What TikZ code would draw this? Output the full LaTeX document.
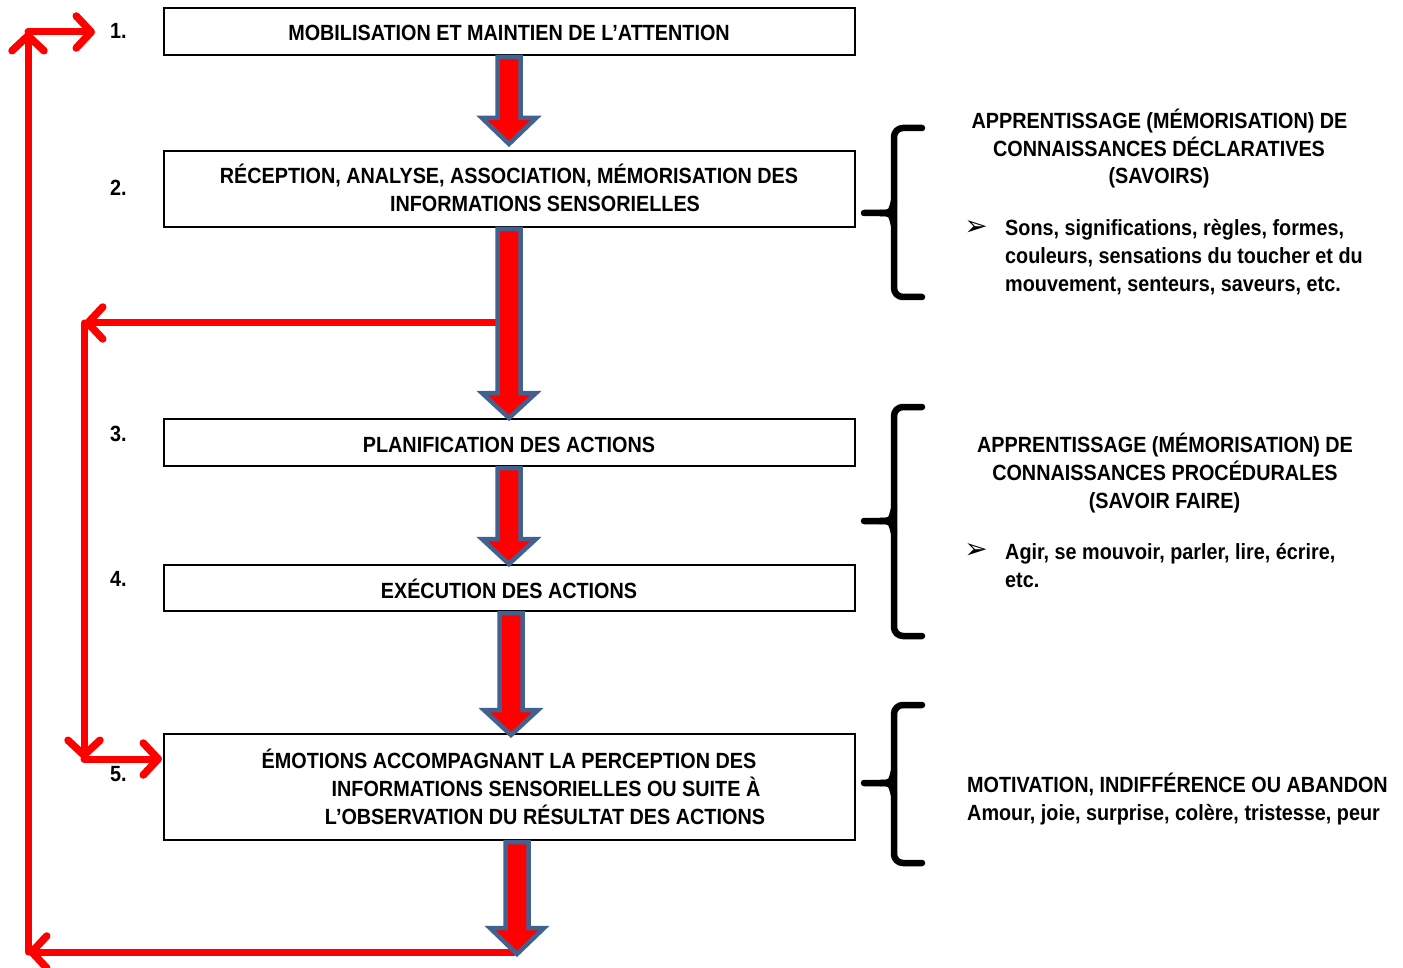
\documentclass[tikz,border=0pt]{standalone}
\usepackage{fontspec}
\setmainfont{Liberation Sans}[FakeStretch=0.9]
\newfontfamily\dejavu{DejaVu Sans}
\usetikzlibrary{arrows.meta}
\definecolor{arrred}{RGB}{255,0,0}
\definecolor{arrblue}{RGB}{65,98,143}
\newcommand{\myblockarrow}[4]{% cx, top, base, tip
  \draw[blockst] (#1-11.5,#2) -- (#1+11.5,#2) -- (#1+11.5,#3) -- (#1+27,#3) -- (#1,#4) -- (#1-27,#3) -- (#1-11.5,#3) -- cycle;}
\newcommand{\mycurlybrace}[3]{% top, mid, bottom
  \draw[bracest] (922,#1) -- (894,#1) -- (894,#3) -- (922,#3);
  \draw[bracest,rounded corners=0] (864,#2) -- (880,#2) .. controls (891,#2) .. (894,#2-12);
  \draw[bracest,rounded corners=0] (880,#2) .. controls (891,#2) .. (894,#2+12);}
\begin{document}
\begin{tikzpicture}[x=1pt,y=-1pt,
  box/.style={draw, line width=1.4pt, minimum width=691pt, inner sep=0pt},
  tx/.style={inner sep=0pt, font=\bfseries\fontsize{22}{26}\selectfont, text height=16pt, text depth=0pt},
  txl/.style={tx, anchor=west},
  bul/.style={inner sep=0pt, font=\dejavu\fontsize{28}{30}\selectfont},
  blockst/.style={fill=arrred, draw=arrblue, line width=4.5pt, line join=miter},
  redline/.style={draw=arrred, line width=7pt, line cap=round, -{Straight Barb[length=15pt,width=32pt,line width=7.5pt,round]}},
  bracest/.style={draw=black, line width=6.5pt, rounded corners=9pt, line cap=round}]
\useasboundingbox (0,0) rectangle (1403,968);

% boxes
\node[box, minimum height=47pt] (b1) at (509.5,31.5) {};
\node[box, minimum height=76pt] (b2) at (509.5,189) {};
\node[box, minimum height=47pt] (b3) at (509.5,442.5) {};
\node[box, minimum height=46pt] (b4) at (509.5,588) {};
\node[box, minimum height=106pt] (b5) at (509.5,787) {};

% box texts
\node[tx] (t1) at (509,33) {MOBILISATION ET MAINTIEN DE L’ATTENTION};
\node[tx] (t2a) at (509,176) {RÉCEPTION, ANALYSE, ASSOCIATION, MÉMORISATION DES};
\node[tx] (t2b) at (545,204) {INFORMATIONS SENSORIELLES};
\node[tx] (t3) at (509,444) {PLANIFICATION DES ACTIONS};
\node[tx] (t4) at (509,590) {EXÉCUTION DES ACTIONS};
\node[tx] (t5a) at (509,760) {ÉMOTIONS ACCOMPAGNANT LA PERCEPTION DES};
\node[tx] (t5b) at (546,788) {INFORMATIONS SENSORIELLES OU SUITE À};
\node[tx] (t5c) at (545,816) {L’OBSERVATION DU RÉSULTAT DES ACTIONS};

% numbers
\node[txl] (n1) at (110,31) {1.};
\node[txl] (n2) at (110,188) {2.};
\node[txl] (n3) at (110,433) {3.};
\node[txl] (n4) at (110,578) {4.};
\node[txl] (n5) at (110,773) {5.};

% red connectors
\coordinate (j2) at (500,323);
\coordinate (c1) at (84,323);
\coordinate (c2) at (84,759);
\coordinate (b5in) at (162,759);
\coordinate (j5) at (514,952);
\coordinate (l1) at (28,952);
\coordinate (l2) at (28,32);
\coordinate (n1in) at (95,32);
\draw[redline] (j2) -- (c1);
\draw[redline] (c1) -- (c2);
\draw[redline] (c2) -- (b5in);
\draw[redline] (j5) -- (l1);
\draw[redline] (l1) -- (l2);
\draw[redline] (l2) -- (n1in);

% block arrows
\myblockarrow{509}{57}{118}{144}
\myblockarrow{509}{229}{393}{418}
\myblockarrow{509}{468}{539}{564}
\myblockarrow{511}{613}{710}{735}
\myblockarrow{517}{842}{928}{954}

% braces
\mycurlybrace{128}{213}{297}
\mycurlybrace{407}{521}{636}
\mycurlybrace{705}{783}{863}

% right texts
\node[tx] (r1a) at (1159.5,121) {APPRENTISSAGE (MÉMORISATION) DE};
\node[tx] (r1b) at (1159,149) {CONNAISSANCES DÉCLARATIVES};
\node[tx] (r1c) at (1159,176) {(SAVOIRS)};
\node[bul] (bul1) at (976,228) {➢};
\node[txl] (r1d) at (1005,228) {Sons, significations, règles, formes,};
\node[txl] (r1e) at (1005,256) {couleurs, sensations du toucher et du};
\node[txl] (r1f) at (1005,284) {mouvement, senteurs, saveurs, etc.};

\node[tx] (r2a) at (1165,444) {APPRENTISSAGE (MÉMORISATION) DE};
\node[tx] (r2b) at (1165,472) {CONNAISSANCES PROCÉDURALES};
\node[tx] (r2c) at (1164.5,500) {(SAVOIR FAIRE)};
\node[bul] (bul2) at (976,551) {➢};
\node[txl] (r2d) at (1005,551) {Agir, se mouvoir, parler, lire, écrire,};
\node[txl] (r2e) at (1005,579) {etc.};

\node[txl] (r3a) at (967,784) {MOTIVATION, INDIFFÉRENCE OU ABANDON};
\node[txl] (r3b) at (967,812) {Amour, joie, surprise, colère, tristesse, peur};
\end{tikzpicture}
\end{document}
